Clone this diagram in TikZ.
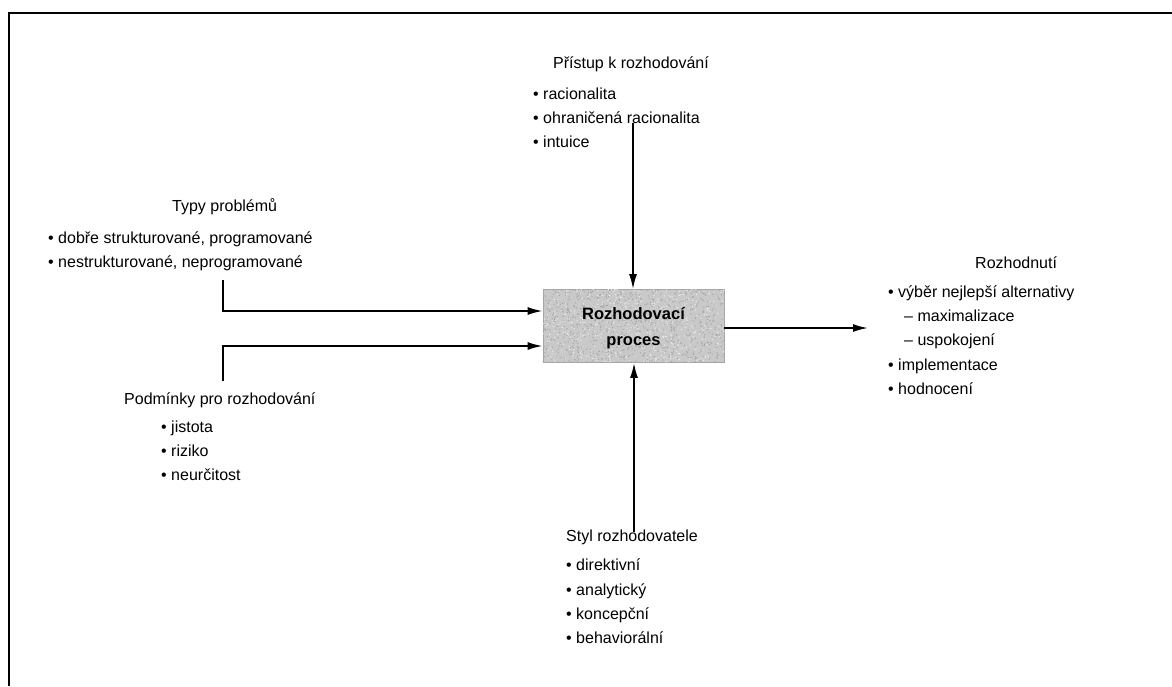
\documentclass[tikz,border=0pt]{standalone}
\usepackage{fontspec}
\setmainfont{Liberation Sans}
\usetikzlibrary{arrows.meta}
\begin{document}
\begin{tikzpicture}[x=1pt,y=-1pt,
  lbl/.style={anchor=base west,inner sep=0pt,font=\fontsize{16}{19}\selectfont},
  procbox/.style={draw=gray!70,line width=0.8pt,fill=gray!42,minimum width=181pt,minimum height=73pt,inner sep=0pt,align=center,font=\fontsize{16.5}{26}\selectfont\bfseries},
  flow/.style={line width=1.8pt,-{Latex[length=15pt,width=8pt]}},
  frameline/.style={line width=2.6pt}]
\useasboundingbox (0,0) rectangle (1172,686);
% outer frame (top and left edges)
\draw[frameline] (9,686) -- (9,13) -- (1172,13);

% central process box with grainy fill
\node[procbox] (proc) at (633.5,326) {};
\begin{scope}
  \clip (proc.south west) rectangle (proc.north east);
  \pgfmathsetseed{7}
  \foreach \i in {1,...,900}{
    \fill[gray!70] ({543+181*rnd},{289+73*rnd}) circle (0.7);
  }
  \foreach \i in {1,...,500}{
    \fill[gray!15] ({543+181*rnd},{289+73*rnd}) circle (0.7);
  }
\end{scope}
\node[procbox,fill=none,draw=none] (proctext) at (633.5,328) {Rozhodovací\\proces};

% approach to deciding (top)
\node[lbl] (pr0) at (553,68) {Přístup k rozhodování};
\node[lbl] (pr1) at (533,99) {• racionalita};
\node[lbl] (pr2) at (533,123) {• ohraničená racionalita};
\node[lbl] (pr3) at (533,147) {• intuice};

% problem types (left, upper)
\node[lbl] (ty0) at (172,211) {Typy problémů};
\node[lbl] (ty1) at (48,243) {• dobře strukturované, programované};
\node[lbl] (ty2) at (48,267) {• nestrukturované, neprogramované};

% decision conditions (left, lower)
\node[lbl] (po0) at (124,404) {Podmínky pro rozhodování};
\node[lbl] (po1) at (161,432) {• jistota};
\node[lbl] (po2) at (161,456) {• riziko};
\node[lbl] (po3) at (161,480) {• neurčitost};

% decision (right)
\node[lbl] (ro0) at (975,268) {Rozhodnutí};
\node[lbl] (ro1) at (888,297) {• výběr nejlepší alternativy};
\node[lbl] (ro2) at (904,321) {– maximalizace};
\node[lbl] (ro3) at (904,345) {– uspokojení};
\node[lbl] (ro4) at (888,370) {• implementace};
\node[lbl] (ro5) at (888,394) {• hodnocení};

% decision-maker style (bottom)
\node[lbl] (st0) at (566,541) {Styl rozhodovatele};
\node[lbl] (st1) at (566,570) {• direktivní};
\node[lbl] (st2) at (566,595) {• analytický};
\node[lbl] (st3) at (566,619) {• koncepční};
\node[lbl] (st4) at (566,643) {• behaviorální};

% connector ends
\coordinate (topstart) at (633,123);
\coordinate (botstart) at (634,532);
\coordinate (tystart) at (223,280);
\coordinate (tycorner) at (223,311);
\coordinate (postart) at (223,381);
\coordinate (pocorner) at (223,346);
\coordinate (outend) at (868,328);

\draw[flow] (topstart) -- (topstart |- proc.north);
\draw[flow] (botstart) -- (botstart |- proc.south);
\draw[flow] (tystart) -- (tycorner) -- (tycorner -| proc.west);
\draw[flow] (postart) -- (pocorner) -- (pocorner -| proc.west);
\draw[flow] (proc.east |- outend) -- (outend);
\end{tikzpicture}
\end{document}
